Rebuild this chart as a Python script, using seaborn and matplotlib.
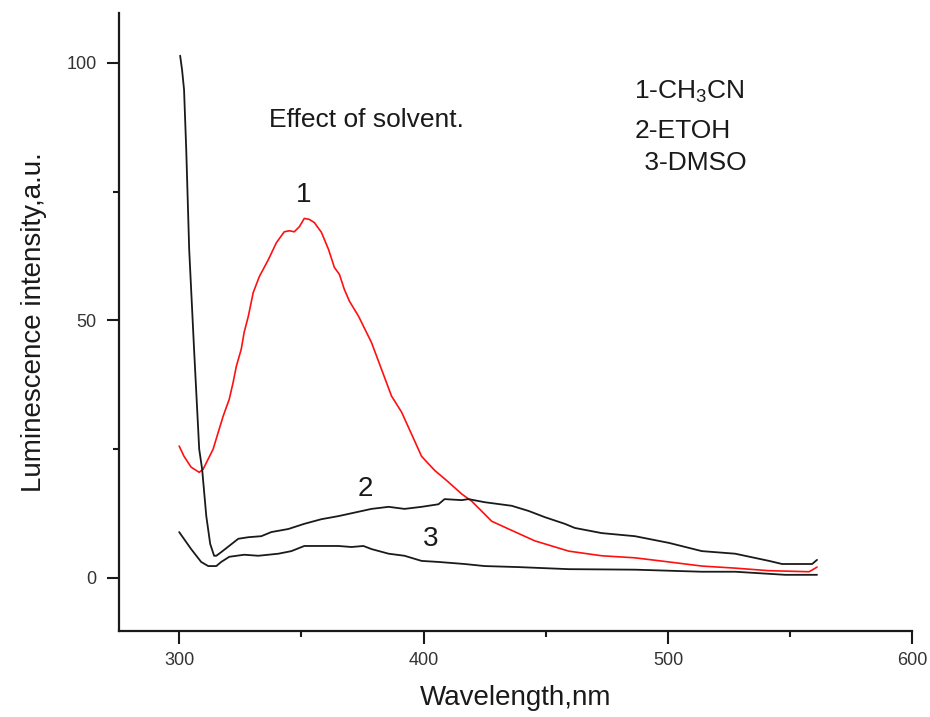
import pandas as pd
import seaborn as sns
import matplotlib.pyplot as plt
from matplotlib.ticker import MultipleLocator

# Curve 1 - CH3CN (red)
wl_1 = [300, 302, 304.9, 308.2, 309.8, 311.9, 313.9, 316, 318, 320.5, 322.1, 323.4, 325.4,
        326.6, 328.3, 330.3, 332.8, 336.5, 339.8, 343, 345.1, 347.1, 349.2, 351.2, 353.3,
        355.3, 358.2, 361.1, 363.5, 365.6, 367.6, 369.7, 373.4, 378.7, 382.8, 386.9, 391,
        395.1, 399.2, 404.5, 410.2, 415.6, 419.7, 427.9, 434.8, 445.5, 459.4, 472.9, 486.5,
        500.4, 513.9, 527.5, 541.4, 557.8, 561]
int_1 = [25.6, 23.6, 21.5, 20.5, 21.1, 23.1, 25.0, 28.3, 31.4, 34.7, 38.0, 41.1, 44.4,
         47.7, 50.8, 55.4, 58.5, 61.8, 65.1, 67.2, 67.4, 67.2, 68.2, 69.8, 69.6,
         69.0, 67.1, 63.8, 60.3, 58.9, 56.0, 53.7, 50.8, 45.7, 40.5, 35.3, 32.2,
         27.9, 23.6, 20.9, 18.6, 16.3, 14.9, 11.0, 9.5, 7.2, 5.2, 4.3, 3.9,
         3.1, 2.3, 1.9, 1.4, 1.2, 2.1]

# Curve 2 - ETOH
wl_2 = [300.4, 301.2, 302, 302.9, 304.1, 306.1, 308.2, 309.4, 311.1, 312.7,
        314.3, 315.2, 317.2, 324.2, 328.3, 333.6, 337.7, 344.7, 351.2, 358.2, 365.2, 378.7,
        385.7, 392.2, 399.2, 406.1, 408.6, 415.6, 418.4, 425, 436.1, 443, 449.6, 457.8,
        461.9, 472.9, 486.5, 500.4, 513.9, 527.5, 541.4, 546.7, 559, 561]
int_2 = [101.4, 98.6, 94.8, 83.1, 63.8, 44.4, 25.0, 21.1, 12.0, 6.6,
         4.3, 4.3, 5.0, 7.6, 7.9, 8.1, 8.9, 9.5, 10.5, 11.4, 12.0, 13.4,
         13.8, 13.4, 13.8, 14.3, 15.3, 15.1, 15.3, 14.7, 14.0, 13.0, 11.8, 10.5,
         9.7, 8.7, 8.1, 6.8, 5.2, 4.7, 3.3, 2.7, 2.7, 3.5]

# Curve 3 - DMSO
wl_3 = [300, 304.9, 309, 311.9, 315.2, 317.2, 320.5, 326.6, 332.4, 340.6, 345.9, 351.2,
        358.2, 365.2, 370.5, 375.4, 378.7, 385.7, 392.2, 399.2, 406.1, 416.8, 425, 438.9,
        459.4, 486.5, 513.9, 527.5, 548, 561]
int_3 = [8.9, 5.6, 3.1, 2.3, 2.3, 3.1, 4.1, 4.5, 4.3, 4.7, 5.2, 6.2,
         6.2, 6.2, 6.0, 6.2, 5.6, 4.7, 4.3, 3.3, 3.1, 2.7, 2.3, 2.1,
         1.7, 1.6, 1.2, 1.2, 0.6, 0.6]

curve_labels = ['1', '2', '3']
legend_lines = ['1-CH$_\\mathregular{3}$CN', '2-ETOH', ' 3-DMSO']

sns.set_style('ticks')
plt.rcParams['font.family'] = ['Liberation Sans', 'DejaVu Sans']
plt.rcParams['mathtext.default'] = 'regular'

ink = '#1a1a1a'
fig = plt.figure(figsize=(9.3, 7.17), dpi=100)
ax = fig.add_axes([0.128, 0.12, 0.853, 0.862])

sns.lineplot(x=wl_1, y=int_1, ax=ax, color='#ff1010', lw=1.2, sort=False)
sns.lineplot(x=wl_2, y=int_2, ax=ax, color=ink, lw=1.3, sort=False)
sns.lineplot(x=wl_3, y=int_3, ax=ax, color=ink, lw=1.3, sort=False)

ax.set_xlim(275.4, 600)
ax.set_ylim(-10.3, 109.7)
ax.xaxis.set_major_locator(MultipleLocator(100))
ax.xaxis.set_minor_locator(MultipleLocator(50))
ax.yaxis.set_major_locator(MultipleLocator(50))
ax.yaxis.set_minor_locator(MultipleLocator(25))
ax.tick_params(which='major', length=9, width=1.5, color=ink, labelsize=13, labelcolor='#333333')
ax.tick_params(which='minor', length=4, width=1.5, color=ink)
ax.tick_params(axis='x', pad=6)
ax.tick_params(axis='y', pad=7)
sns.despine(ax=ax)
for s in ['left', 'bottom']:
    ax.spines[s].set_linewidth(1.6)
    ax.spines[s].set_color(ink)

ax.set_xlabel('Wavelength,nm', fontsize=20, color=ink, labelpad=12)
ax.set_ylabel('Luminescence intensity,a.u.', fontsize=20, color=ink, labelpad=14)

ax.text(336.9, 89, 'Effect of solvent.', fontsize=19, color=ink, va='center', ha='left')
for lab, (lx, ly) in zip(curve_labels, [(350.8, 74.4), (376.2, 17.2), (402.9, 7.6)]):
    ax.text(lx, ly, lab, fontsize=20, color=ink, ha='center', va='center')
for line, (lx, ly) in zip(legend_lines, [(486.1, 94.4), (486.5, 86.8), (487.5, 80.6)]):
    ax.text(lx, ly, line, fontsize=19, color=ink, ha='left', va='center')

fig.savefig('out.png', dpi=100)
